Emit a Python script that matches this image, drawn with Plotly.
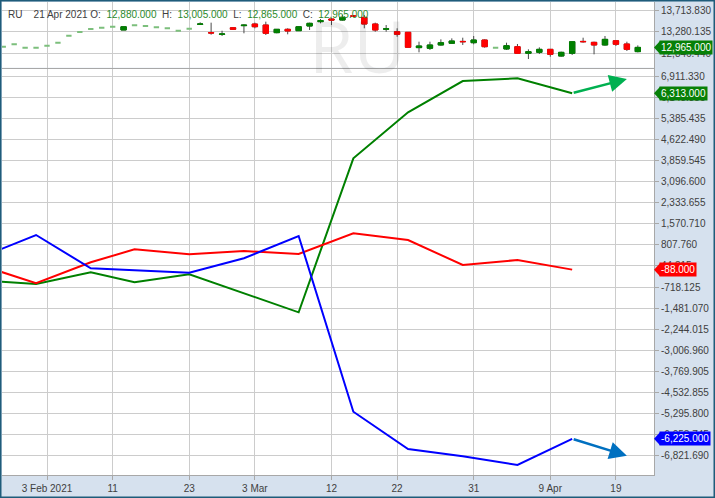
import pandas as pd
import plotly.graph_objects as go

# ---------------- data ----------------
symbol = "RU"
last_date_text = "21 Apr 2021"

# trading days shown in the price panel (US business days, Presidents' Day closed)
bar_dates = pd.bdate_range("2021-01-28", "2021-04-21").drop(pd.Timestamp("2021-02-15"))

opens = [12979, 13027, 12959, 12959, 12999, 13059, 13199, 13273, 13333, 13359,
         13379, 13313, 13407, 13393, 13367, 13347, 13299, 13340, 13427, 13260,
         13227, 13359, 13400, 13433, 13413, 13260, 13327, 13299, 13393, 13480,
         13533, 13513, 13597, 13567, 13433, 13330, 13279, 13267, 12960, 12947,
         13013, 13047, 13085, 13059, 13113, 12959, 12933, 12979, 12846, 12866,
         12926, 12792, 12846, 13085, 13066, 13013, 13099, 13033, 12880]
highs = [12979, 13027, 12959, 12959, 12999, 13059, 13199, 13273, 13333, 13359,
         13379, 13379, 13407, 13393, 13367, 13367, 13299, 13360, 13467, 13460,
         13299, 13367, 13427, 13460, 13480, 13333, 13347, 13393, 13460, 13533,
         13547, 13614, 13600, 13614, 13460, 13413, 13347, 13267, 13079, 13079,
         13126, 13146, 13159, 13193, 13126, 12959, 13059, 13033, 12926, 12966,
         12926, 12879, 13093, 13159, 13079, 13193, 13113, 13079, 13005]
lows = [12979, 13027, 12959, 12959, 12999, 13059, 13199, 13273, 13333, 13359,
        13379, 13313, 13407, 13393, 13367, 13347, 13299, 13330, 13420, 13219,
        13193, 13320, 13247, 13347, 13213, 13247, 13227, 13293, 13313, 13447,
        13413, 13500, 13587, 13347, 13279, 13279, 13179, 12967, 12866, 12913,
        13000, 13033, 13013, 13027, 12959, 12959, 12913, 12833, 12732, 12833,
        12778, 12778, 12813, 13059, 12826, 13000, 12993, 12893, 12865]
closes = [12979, 13027, 12959, 12959, 12999, 13059, 13199, 13273, 13333, 13359,
          13379, 13379, 13407, 13393, 13367, 13347, 13299, 13340, 13433, 13255,
          13233, 13327, 13410, 13379, 13247, 13327, 13293, 13379, 13447, 13500,
          13513, 13567, 13590, 13433, 13313, 13336, 13227, 12967, 12993, 13013,
          13059, 13093, 13079, 13113, 12979, 12959, 12999, 12846, 12879, 12926,
          12826, 12866, 13079, 13079, 13013, 13126, 13027, 12926, 12965]

# weekly positioning (lower panel)
cot_dates = ["2021-01-26", "2021-02-02", "2021-02-09", "2021-02-16", "2021-02-23",
             "2021-03-02", "2021-03-09", "2021-03-16", "2021-03-23", "2021-03-30",
             "2021-04-06", "2021-04-13"]
green_vals = [-483, -610, -185, -548, -258, -936, -1637, 3951, 5619, 6755, 6853, 6313]
blue_vals = [370, 1168, -40, -120, -200, 323, 1132, -5243, -6596, -6861, -7177, -6225]
red_vals = [65, -584, 177, 649, 468, 588, 479, 1230, 987, 80, 261, -88]

proj_date = "2021-04-20"
green_proj = 6828
blue_proj = -6839

# axis ticks
x_tickvals = ["2021-02-03", "2021-02-11", "2021-02-23", "2021-03-03", "2021-03-12",
              "2021-03-22", "2021-03-31", "2021-04-09", "2021-04-19"]
x_ticktext = ["3 Feb 2021", "11", "23", "3 Mar", "12", "22", "31", "9 Apr", "19"]

price_tickvals = [12846.44, 13280.135, 13713.83]
price_ticktext = ["12,846.440", "13,280.135", "13,713.830"]

low_tickvals = [-6821.69, -6058.745, -5295.8, -4532.855, -3769.905, -3006.96,
                -2244.015, -1481.07, -718.125, 44.815, 807.76, 1570.71, 2333.655,
                3096.6, 3859.545, 4622.49, 5385.435, 6148.385, 6911.33]
low_ticktext = ["-6,821.690", "-6,058.745", "-5,295.800", "-4,532.855", "-3,769.905",
                "-3,006.960", "-2,244.015", "-1,481.070", "-718.125", "44.815",
                "807.760", "1,570.710", "2,333.655", "3,096.600", "3,859.545",
                "4,622.490", "5,385.435", "6,148.385", "6,911.330"]

# ---------------- style ----------------
W, H = 715, 498
ML, MR, MT, MB = 2, 61, 2, 23
PW, PH = W - ML - MR, H - MT - MB
split = 0.8615
FONT = "Liberation Sans"
GRID = "#cccccc"
AXLINE = "#a8a8a8"
TXT = "#404040"
AXBG = "#d6e1ee"
C_GREEN, C_RED, C_BLUE = "#008000", "#ff0000", "#0000ff"
C_FLAT = "#7cbf7c"

fig = go.Figure()

flat = [o == c for o, c in zip(opens, closes)]
moving = [not f for f in flat]


def pick(seq, mask):
    return [s for s, m in zip(seq, mask) if m]


# wicks (drawn underneath)
fig.add_trace(go.Candlestick(
    x=pick(bar_dates, moving), open=pick(opens, moving), high=pick(highs, moving),
    low=pick(lows, moving), close=pick(closes, moving),
    xaxis="x2", yaxis="y2",
    increasing=dict(line=dict(color="#4a4a4a", width=1), fillcolor="#4a4a4a"),
    decreasing=dict(line=dict(color="#4a4a4a", width=1), fillcolor="#4a4a4a"),
    hoverinfo="skip", showlegend=False))
# coloured bodies
mo, mc = pick(opens, moving), pick(closes, moving)
fig.add_trace(go.Candlestick(
    x=pick(bar_dates, moving), open=mo, close=mc,
    high=[max(o, c) for o, c in zip(mo, mc)],
    low=[min(o, c) for o, c in zip(mo, mc)],
    xaxis="x2", yaxis="y2",
    increasing=dict(line=dict(color=C_GREEN, width=1), fillcolor=C_GREEN),
    decreasing=dict(line=dict(color=C_RED, width=1), fillcolor=C_RED),
    showlegend=False))
# flat (no range) sessions
fig.add_trace(go.Candlestick(
    x=pick(bar_dates, flat), open=pick(opens, flat), high=pick(highs, flat),
    low=pick(lows, flat), close=pick(closes, flat),
    xaxis="x2", yaxis="y2",
    increasing=dict(line=dict(color=C_FLAT, width=2), fillcolor=C_FLAT),
    decreasing=dict(line=dict(color=C_FLAT, width=2), fillcolor=C_FLAT),
    showlegend=False))

for vals, col in [(green_vals, C_GREEN), (red_vals, C_RED), (blue_vals, C_BLUE)]:
    fig.add_trace(go.Scatter(x=cot_dates, y=vals, mode="lines",
                             line=dict(color=col, width=2),
                             xaxis="x", yaxis="y", showlegend=False))

rb = [dict(bounds=["sat", "mon"]), dict(values=["2021-02-15"])]
xrange_ = ["2021-01-27 21:17", "2021-04-22 11:30"]
common_x = dict(type="date", range=xrange_, rangebreaks=rb, tickvals=x_tickvals,
                showgrid=True, gridcolor=GRID, gridwidth=1, showline=True,
                linecolor=AXLINE, linewidth=1, zeroline=False,
                rangeslider=dict(visible=False), fixedrange=True)

fig.update_layout(
    width=W, height=H,
    margin=dict(l=ML, r=MR, t=MT, b=MB, pad=0),
    paper_bgcolor=AXBG, plot_bgcolor="white",
    font=dict(family=FONT, size=10, color=TXT),
    showlegend=False, hovermode=False,
    xaxis=dict(**common_x, domain=[0, 1], anchor="y", ticktext=x_ticktext,
               ticks="outside", ticklen=4, tickcolor=AXLINE,
               tickfont=dict(size=10, color=TXT)),
    xaxis2=dict(**common_x, domain=[0, 1], anchor="y2", matches="x",
                showticklabels=False, ticks=""),
    yaxis=dict(domain=[0, split], anchor="x", side="right",
               range=[-7539, 7245], tickvals=low_tickvals, ticktext=low_ticktext,
               ticks="outside", ticklen=4, tickcolor=AXLINE,
               showgrid=True, gridcolor=GRID, showline=True, linecolor=AXLINE,
               zeroline=False, fixedrange=True, tickfont=dict(size=10, color=TXT)),
    yaxis2=dict(domain=[split, 1], anchor="x2", side="right",
                range=[12562, 13874], tickvals=price_tickvals, ticktext=price_ticktext,
                ticks="outside", ticklen=4, tickcolor=AXLINE,
                showgrid=True, gridcolor=GRID, showline=True, linecolor=AXLINE,
                zeroline=False, fixedrange=True, tickfont=dict(size=10, color=TXT)),
)

annotations = []
shapes = []

# header line
lbl, val = "#404040", "#2b8a2b"
sp = "&nbsp;"
hdr = (f"<span style='color:{lbl}'>{symbol}</span>{sp*4}"
       f"<span style='color:{lbl}'>{last_date_text}</span>{sp*1}"
       f"<span style='color:{lbl}'>O:</span>{sp*2}<span style='color:{val}'>{opens[-1]:,.3f}</span>{sp*2}"
       f"<span style='color:{lbl}'>H:</span>{sp*2}<span style='color:{val}'>{highs[-1]:,.3f}</span>{sp*2}"
       f"<span style='color:{lbl}'>L:</span>{sp*2}<span style='color:{val}'>{lows[-1]:,.3f}</span>{sp*2}"
       f"<span style='color:{lbl}'>C:</span>{sp*2}<span style='color:{val}'>{closes[-1]:,.3f}</span>")
annotations.append(dict(text=hdr, xref="paper", yref="paper", x=0, y=1,
                        xanchor="left", yanchor="top", xshift=4, yshift=-5,
                        showarrow=False, font=dict(size=10, family=FONT)))

# watermark
annotations.append(dict(text=symbol, xref="paper", yref="paper",
                        x=(357 - ML) / PW, y=(H - MB - 45) / PH,
                        xanchor="center", yanchor="middle", showarrow=False,
                        font=dict(size=72, family="Open Sans",
                                  color="rgba(0,0,0,0.07)")))

# projection arrows
last = cot_dates[-1]
for tgt, start, col in [(green_proj, green_vals[-1], "#00b050"),
                        (blue_proj, blue_vals[-1], "#0070c0")]:
    annotations.append(dict(text="", x=proj_date, y=tgt, xref="x", yref="y",
                            ax=last, ay=start, axref="x", ayref="y",
                            showarrow=True, arrowhead=2, arrowsize=1.4,
                            arrowwidth=2.5, arrowcolor=col, standoff=0))

# last-value tags
tags = [(closes[-1], "y2", "#078007"),
        (green_vals[-1], "y", "#078007"),
        (red_vals[-1], "y", "#ff0000"),
        (blue_vals[-1], "y", "#0000ff")]
for v, yr, col in tags:
    annotations.append(dict(text=f"{v:,.3f}", xref="paper", x=1, xanchor="left",
                            xshift=5, yref=yr, y=v, yanchor="middle",
                            showarrow=False, bgcolor=col, borderpad=1,
                            font=dict(color="white", size=10, family=FONT)))
    shapes.append(dict(type="path", xref="paper", xsizemode="pixel", xanchor=1,
                       yref=yr, ysizemode="pixel", yanchor=v,
                       path="M 0 0 L 6 6.5 L 6 -6.5 Z",
                       fillcolor=col, line=dict(width=0)))

# outer frame
shapes.append(dict(type="rect", xref="paper", yref="paper",
                   x0=-ML / PW, x1=(W - ML) / PW, y0=-MB / PH, y1=(H - MB) / PH,
                   line=dict(color="#1f5c7a", width=3), fillcolor="rgba(0,0,0,0)"))

fig.update_layout(annotations=annotations, shapes=shapes)
fig.write_html("out.html",
               config={"displayModeBar": False, "staticPlot": True},
               post_script="document.body.style.margin='0';"
                           "document.body.style.padding='0';"
                           "document.documentElement.style.overflow='hidden';")
